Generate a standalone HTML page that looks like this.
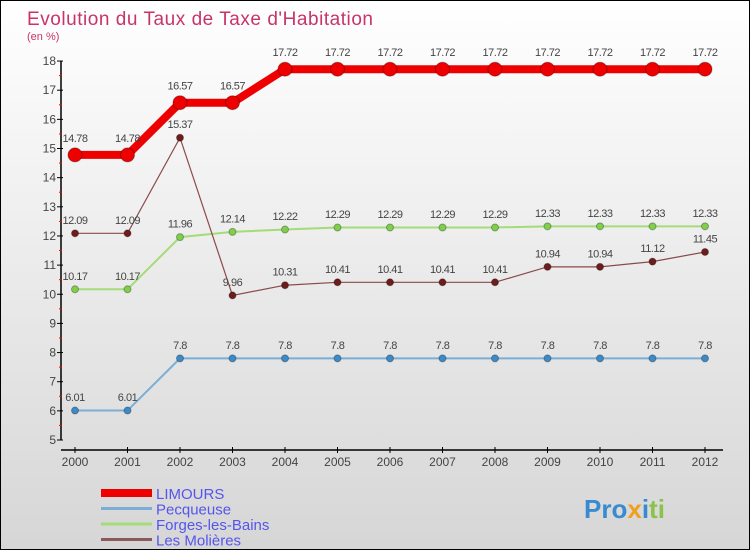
<!DOCTYPE html>
<html><head><meta charset="utf-8"><style>
body{margin:0}
#c{width:748px;height:548px;border:1px solid #000;background:linear-gradient(#fff,#d6d6d6);position:relative;font-family:"Liberation Sans",sans-serif}
</style></head><body>
<div id="c">
<svg id="s" width="748" height="548" style="position:absolute;left:0;top:0;font-family:'Liberation Sans',sans-serif">
<text x="26" y="24" font-size="19" fill="#c8336a" textLength="346">Evolution du Taux de Taxe d'Habitation</text>
<text x="26" y="39" font-size="11" fill="#c8336a">(en %)</text>
</svg>
</div>
<script>
const years=[2000,2001,2002,2003,2004,2005,2006,2007,2008,2009,2010,2011,2012];
const limours=[14.78,14.78,16.57,16.57,17.72,17.72,17.72,17.72,17.72,17.72,17.72,17.72,17.72];
const pecqueuse=[6.01,6.01,7.8,7.8,7.8,7.8,7.8,7.8,7.8,7.8,7.8,7.8,7.8];
const forges=[10.17,10.17,11.96,12.14,12.22,12.29,12.29,12.29,12.29,12.33,12.33,12.33,12.33];
const molieres=[12.09,12.09,15.37,9.96,10.31,10.41,10.41,10.41,10.41,10.94,10.94,11.12,11.45];
const yTicks=[5,6,7,8,9,10,11,12,13,14,15,16,17,18];
const NS="http://www.w3.org/2000/svg",s=document.getElementById('s');
const X=i=>74+i*52.5, Y=v=>439-(v-5)*29.15;
function el(t,a,p){const e=document.createElementNS(NS,t);for(const k in a)e.setAttribute(k,a[k]);(p||s).appendChild(e);return e;}
let ax=el('path',{d:`M60 ${Y(18)}V${Y(5)}M60 449H722`,stroke:'#000','stroke-width':1.5,fill:'none'});


yTicks.forEach(v=>{
 el('line',{x1:56,x2:62,y1:Y(v),y2:Y(v),stroke:'#000'});
 if(v<18)el('line',{x1:58,x2:61,y1:Y(v+0.5),y2:Y(v+0.5),stroke:'#f00'});
 const t=el('text',{x:55,y:Y(v)+4,'font-size':12,fill:'#444','text-anchor':'end'});t.textContent=v;
 
 
});
years.forEach((y,i)=>{
 el('line',{x1:X(i),x2:X(i),y1:446,y2:452,stroke:'#000'});
 const t=el('text',{x:X(i),y:465,'font-size':12,fill:'#444','text-anchor':'middle'});t.textContent=y;
 
 
});
function series(d,col,w,r,name,dot){
 const g=el('g',{});
 
 
 el('polyline',{points:d.map((v,i)=>X(i)+','+Y(v)).join(' '),fill:'none',stroke:col,'stroke-width':w},g);
 d.forEach((v,i)=>{
  const c=el('circle',{cx:X(i),cy:Y(v),r:r,fill:dot,stroke:'rgba(0,0,0,0.3)'},g);
  
  
  const t=el('text',{x:X(i),y:Y(v)-(r+6),'font-size':11,fill:'#444','text-anchor':'middle','letter-spacing':'-0.5'},g);t.textContent=v;
 });
}
series(pecqueuse,'#7aaed6',2,3.5,'pecqueuse-series','#3d8ac8');
series(forges,'#a3dc78',2,3.5,'forges-series','#7ed04a');
series(molieres,'#8a4a4a',1.2,3.5,'molieres-series','#6e1c1c');
series(limours,'#ee0000',8,7,'limours-series','#ee0000');
const leg=[['LIMOURS','#ee0000',8],['Pecqueuse','#7aaed6',3],['Forges-les-Bains','#a3dc78',3],['Les Molières','#8a5a5a',3]];
leg.forEach((l,i)=>{
 const y=492+i*15.5;
 const g=el('g',{});
 
 
 el('line',{x1:100,x2:151,y1:y,y2:y,stroke:l[1],'stroke-width':l[2]},g);
 const t=el('text',{x:155,y:y+6,'font-size':15,fill:'#5555ee'},g);t.textContent=l[0];
});
const lg=el('text',{x:583,y:517,'font-size':26,'font-weight':'bold',fill:'#3a8ad0'});


lg.innerHTML='Pro<tspan fill="#f0a020">x</tspan><tspan fill="#3a8ad0">i</tspan><tspan fill="#8bc34a">ti</tspan>';
</script>
</body></html>
